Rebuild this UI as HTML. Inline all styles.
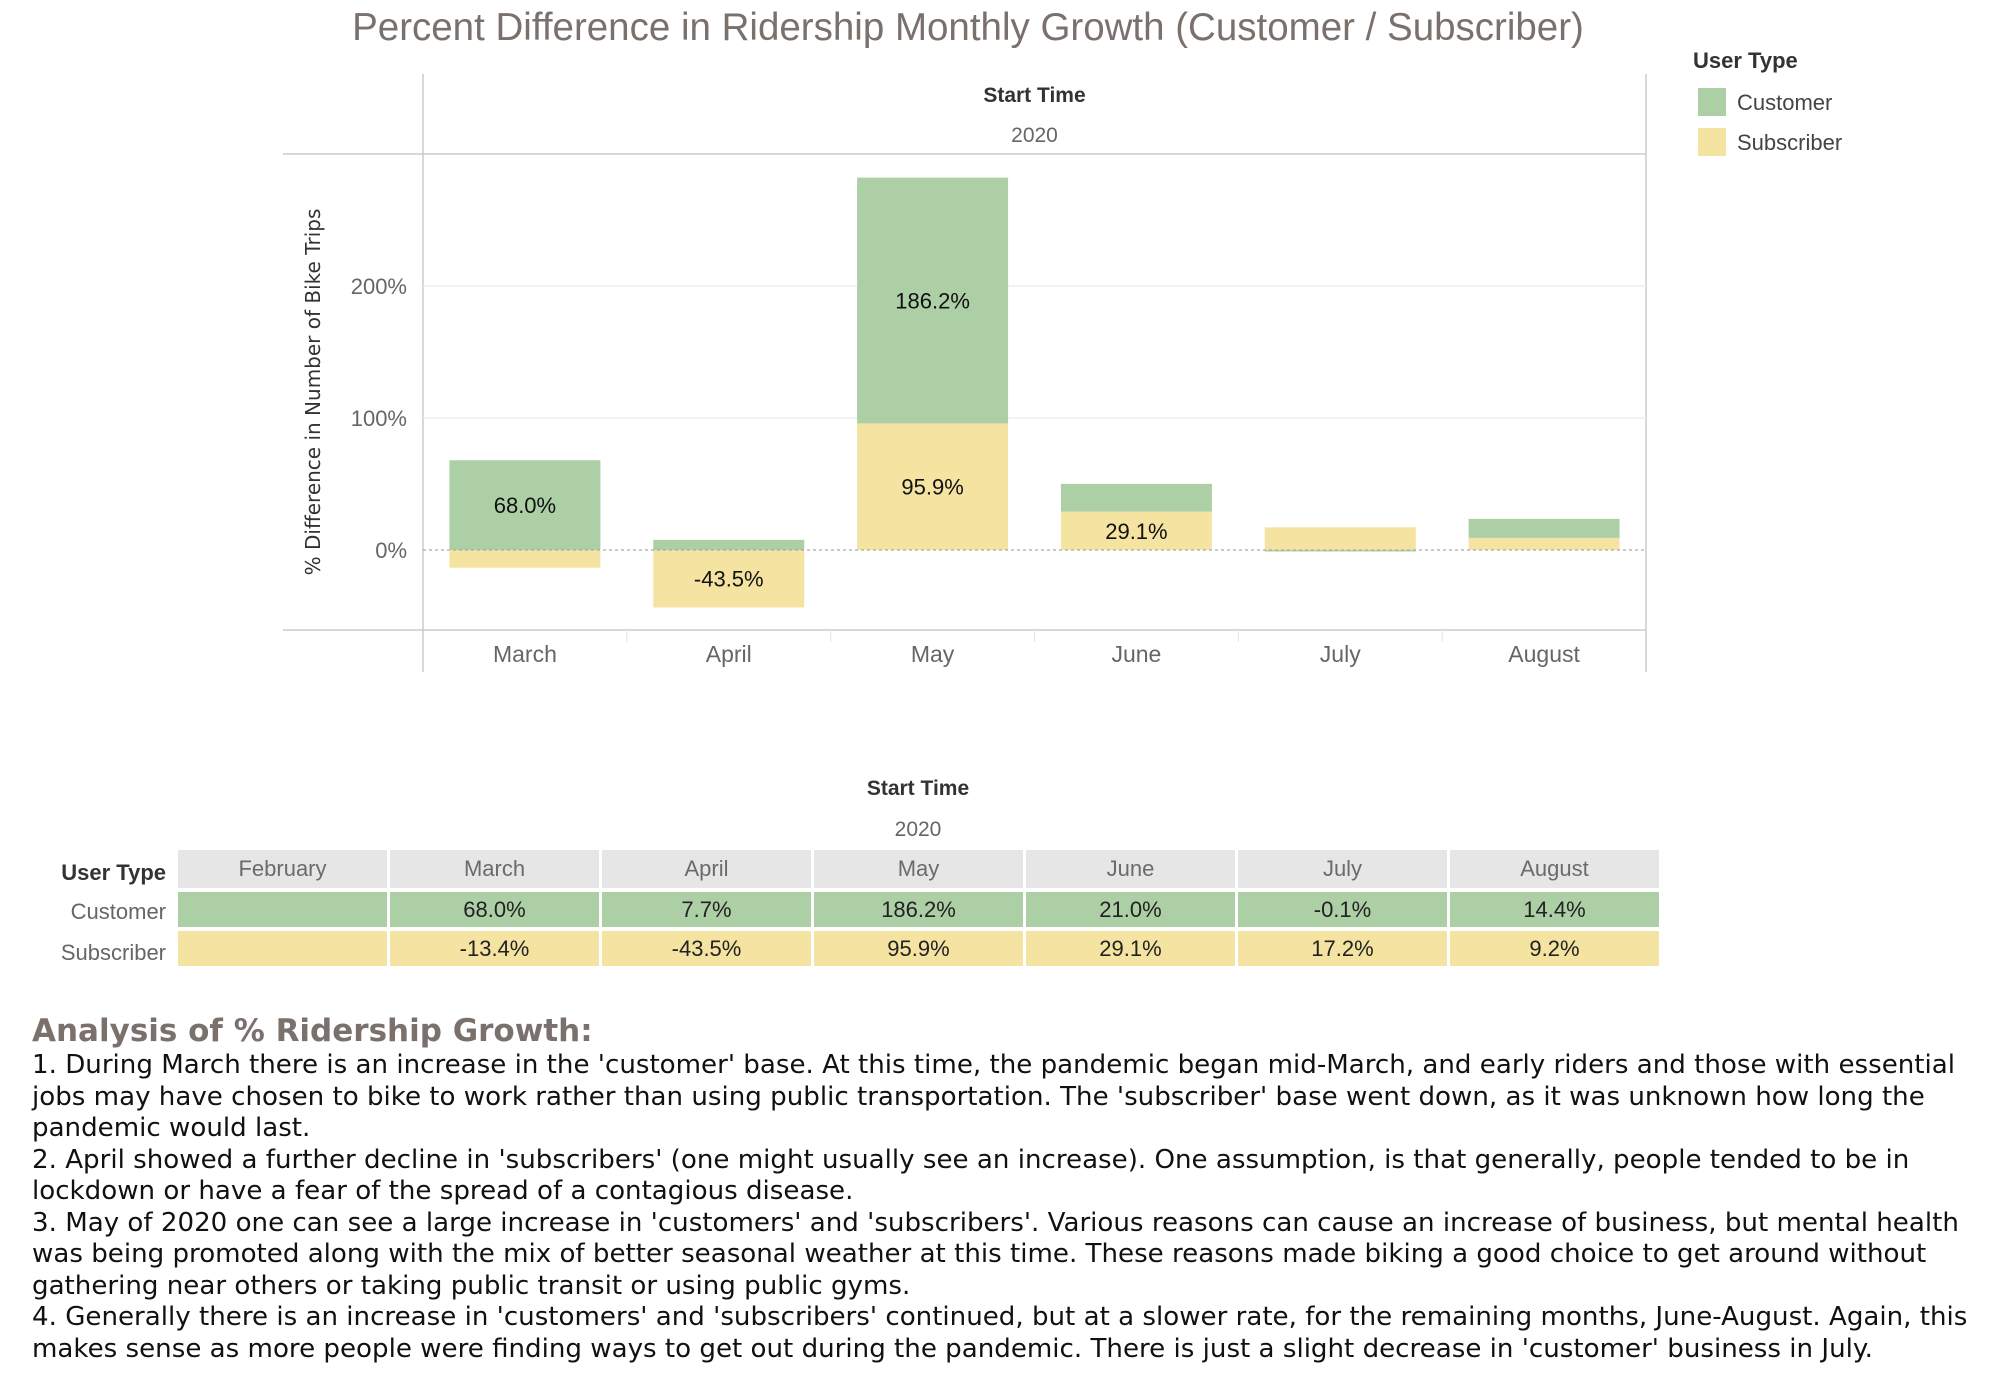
<!DOCTYPE html>
<html><head><meta charset="utf-8">
<style>
body{margin:0;width:2014px;height:1376px;background:#fff;position:relative;overflow:hidden;font-family:"Liberation Sans",sans-serif;}
.abs{position:absolute;}
#title{left:0;width:1936px;top:6px;text-align:center;font-size:38.5px;color:#7a706c;}
table{border-collapse:separate;border-spacing:3px 4px;}
.tbl{left:175px;top:846px;}
.tbl td{width:209px;height:35px;text-align:center;font-size:22px;padding:0;}
.hdr td{background:#e6e6e6;color:#6b6b6b;height:38px;}
.cust td{background:#accfa6;color:#222;}
.subs td{background:#f5e3a1;color:#222;}
.rl{right:1848px;font-size:22px;color:#666;text-align:right;}
#analysis{left:32px;top:1012px;color:#111;font-family:"DejaVu Sans",sans-serif;font-size:26.1px;line-height:31.5px;white-space:nowrap;}
#analysis h2{margin:0;font-family:"DejaVu Sans",sans-serif;font-size:31px;font-weight:bold;color:#7a706c;line-height:38px;}
</style></head>
<body>
<div id="title" class="abs">Percent Difference in Ridership Monthly Growth (Customer / Subscriber)</div>

<svg class="abs" style="left:0;top:0" width="2014" height="700">
  <g id="frame"></g>
  <g id="grid"></g>
  <g id="bars"></g>
  <g id="labels"></g>
</svg>

<div class="abs" style="left:1693px;top:48px;font-size:22px;color:#333;font-weight:bold">User Type</div>
<div class="abs" style="left:1698px;top:88px;width:28px;height:28px;background:#accfa6"></div>
<div class="abs" style="left:1737px;top:90px;font-size:22px;color:#444">Customer</div>
<div class="abs" style="left:1698px;top:128px;width:28px;height:28px;background:#f5e3a1"></div>
<div class="abs" style="left:1737px;top:130px;font-size:22px;color:#444">Subscriber</div>

<div class="abs" style="left:0;width:1836px;top:777px;text-align:center;font-size:21px;color:#333;font-weight:bold">Start Time</div>
<div class="abs" style="left:0;width:1836px;top:818px;text-align:center;font-size:21px;color:#666">2020</div>
<div class="abs rl" style="top:860px;color:#333;font-weight:bold">User Type</div>
<div class="abs rl" style="top:899px">Customer</div>
<div class="abs rl" style="top:940px">Subscriber</div>
<table class="abs tbl">
<tr class="hdr"><td>February</td><td>March</td><td>April</td><td>May</td><td>June</td><td>July</td><td>August</td></tr>
<tr class="cust"><td></td><td>68.0%</td><td>7.7%</td><td>186.2%</td><td>21.0%</td><td>-0.1%</td><td>14.4%</td></tr>
<tr class="subs"><td></td><td>-13.4%</td><td>-43.5%</td><td>95.9%</td><td>29.1%</td><td>17.2%</td><td>9.2%</td></tr>
</table>

<div id="analysis" class="abs">
<h2>Analysis of % Ridership Growth:</h2>
1. During March there is an increase in the 'customer' base. At this time, the pandemic began mid-March, and early riders and those with essential<br>
jobs may have chosen to bike to work rather than using public transportation. The 'subscriber' base went down, as it was unknown how long the<br>
pandemic would last.<br>
2. April showed a further decline in 'subscribers' (one might usually see an increase). One assumption, is that generally, people tended to be in<br>
lockdown or have a fear of the spread of a contagious disease.<br>
3. May of 2020 one can see a large increase in 'customers' and 'subscribers'. Various reasons can cause an increase of business, but mental health<br>
was being promoted along with the mix of better seasonal weather at this time. These reasons made biking a good choice to get around without<br>
gathering near others or taking public transit or using public gyms.<br>
4. Generally there is an increase in 'customers' and 'subscribers' continued, but at a slower rate, for the remaining months, June-August. Again, this<br>
makes sense as more people were finding ways to get out during the pandemic. There is just a slight decrease in 'customer' business in July.
</div>

<script>
const months = ["March","April","May","June","July","August"];
const customer = [68.0, 7.7, 186.2, 21.0, -0.1, 14.4];
const subscriber = [-13.4, -43.5, 95.9, 29.1, 17.2, 9.2];
const yTicks = [0, 100, 200];

const NS = "http://www.w3.org/2000/svg";
const L = 423, R = 1646, TOP = 154, BOT = 630;
const Y0 = 550, PX_PER = 1.32;
function y(v){ return Y0 - v*PX_PER; }
const colW = (R-L)/months.length;
function xc(i){ return L + colW*(i+0.5); }
const barW = 151;
function mk(parent, tag, attrs){ const e=document.createElementNS(NS,tag); for(const k in attrs) e.setAttribute(k,attrs[k]); document.getElementById(parent).appendChild(e); return e; }

let e;
e = mk("frame","line",{x1:L,y1:74,x2:L,y2:672,stroke:"#ccc","stroke-width":1.5});
 
e = mk("frame","line",{x1:R,y1:74,x2:R,y2:672,stroke:"#ccc","stroke-width":1.5});
 
e = mk("frame","line",{x1:283,y1:TOP,x2:R,y2:TOP,stroke:"#ccc","stroke-width":1.5});
 
e = mk("frame","line",{x1:283,y1:BOT,x2:R,y2:BOT,stroke:"#ccc","stroke-width":1.5});
 
for(let i=1;i<months.length;i++){
  e = mk("frame","line",{x1:L+colW*i,y1:BOT,x2:L+colW*i,y2:642,stroke:"#e4e4e4"});
   
}
e = mk("frame","text",{x:(L+R)/2,y:102,"text-anchor":"middle","font-size":21,"font-weight":"bold",fill:"#333","font-family":"Liberation Sans"});
e.textContent="Start Time";
 
e = mk("frame","text",{x:(L+R)/2,y:142,"text-anchor":"middle","font-size":21,fill:"#666","font-family":"Liberation Sans"});
e.textContent="2020";
 
e = mk("frame","text",{x:0,y:0,"text-anchor":"middle","font-size":20,fill:"#333","font-family":"DejaVu Sans",transform:"translate(320,392) rotate(-90)"});
e.textContent="% Difference in Number of Bike Trips";
 

yTicks.forEach(t=>{
  if(t!==0){
    e = mk("grid","line",{x1:L,y1:y(t),x2:R,y2:y(t),stroke:"#eee","stroke-width":1.5});
     
  }
  e = mk("grid","text",{x:407,y:y(t)+8,"text-anchor":"end","font-size":22,fill:"#666","font-family":"Liberation Sans"});
  e.textContent=t+"%";
   
});

months.forEach((m,i)=>{
  let pos=0, neg=0;
  const order=[["subscriber",subscriber[i],"#f5e3a1"],["customer",customer[i],"#accfa6"]];
  order.forEach(([name,v,c])=>{
    let a,b;
    if(v>=0){a=pos;b=pos+v;pos=b;} else {a=neg;b=neg+v;neg=b;}
    const y1=y(Math.max(a,b)), y2=y(Math.min(a,b));
    const r = mk("bars","rect",{x:xc(i)-barW/2,y:y1,width:barW,height:Math.max(y2-y1,1.5),fill:c});
    
    
    if(y2-y1>35){
      const t = mk("labels","text",{x:xc(i),y:(y1+y2)/2+8,"text-anchor":"middle","font-size":22,fill:"#111","font-family":"Liberation Sans"});
      t.textContent=v.toFixed(1)+"%";
       
    }
  });
  const xl = mk("labels","text",{x:xc(i),y:662,"text-anchor":"middle","font-size":23,fill:"#666","font-family":"Liberation Sans"});
  xl.textContent=m;
   
});
e = mk("labels","line",{x1:L,y1:Y0,x2:R,y2:Y0,stroke:"#aaa","stroke-dasharray":"3,3","stroke-width":1.2});
 
</script>
</body></html>
